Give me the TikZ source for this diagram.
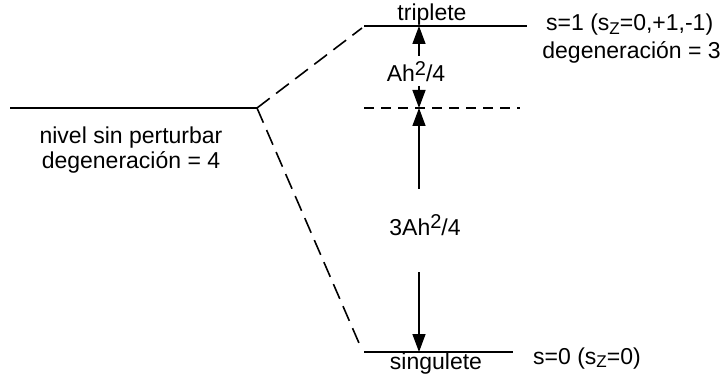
\documentclass[tikz,border=0pt]{standalone}
\usepackage{fontspec}
\setmainfont{Liberation Sans}
\usetikzlibrary{arrows.meta}

% raised superscript and lowered subscript in the label font
\newcommand{\hsup}[1]{\raisebox{0.27em}{\fontsize{20}{20}\selectfont #1}}
\newcommand{\hsub}[1]{\raisebox{-0.16em}{\fontsize{17}{17}\selectfont #1}}

\tikzset{
  level/.style={line width=1.6pt},
  conn/.style={line width=1.6pt, dash pattern=on 16pt off 8pt},
  midlevel/.style={line width=1.6pt, dash pattern=on 10pt off 7pt},
  gap/.style={line width=1.4pt, -{Triangle[length=18pt,width=13pt]}},
  lbl/.style={inner sep=0pt, anchor=base},
}

\begin{document}
\begin{tikzpicture}[x=1pt, y=-1pt, font=\fontsize{23}{24}\selectfont]
\useasboundingbox (0,0) rectangle (726,377);

% energy levels
\coordinate (u1) at (10,108);
\coordinate (u2) at (257,108);
\coordinate (t1) at (364,26);
\coordinate (t2) at (527,26);
\coordinate (m1) at (364,108);
\coordinate (m2) at (520,108);
\coordinate (s1) at (364,352);
\coordinate (s2) at (513,352);

\draw[level] (u1) -- (u2);
\draw[level] (t1) -- (t2);
\draw[level] (s1) -- (s2);
\draw[midlevel] (m1) -- (m2);

% splitting connectors
\coordinate (tc) at (362,28);
\coordinate (sc) at (362,350);
\draw[conn] (u2) -- (tc);
\draw[conn] (u2) -- (sc);

% gap arrows
\coordinate (ta) at (419,26);
\coordinate (ma) at (419,108);
\coordinate (sa) at (419,352);
\coordinate (ga1) at (419,56);
\coordinate (ga2) at (419,86);
\coordinate (gb1) at (419,189);
\coordinate (gb2) at (419,272);

\node[lbl] (gapA) at (416,82) {Ah\hsup{2}/4};
\node[lbl] (gapB) at (425,235) {3Ah\hsup{2}/4};

\draw[gap] (ga1) -- (ta);
\draw[gap] (ga2) -- (ma);
\draw[gap] (gb1) -- (ma);
\draw[gap] (gb2) -- (sa);

% labels
\node[lbl] (trip) at (432,21) {triplete};
\node[lbl] (sing) at (436,369) {singulete};
\node[lbl, anchor=base west] (s1lab) at (546,31) {s=1 (s\hsub{Z}=0,+1,-1)};
\node[lbl, anchor=base east] (deg3) at (721,59) {degeneración = 3};
\node[lbl, anchor=base west] (s0lab) at (533,364) {s=0 (s\hsub{Z}=0)};
\node[lbl] (niv) at (131,144) {nivel sin perturbar};
\node[lbl] (deg4) at (131,168) {degeneración = 4};
\end{tikzpicture}
\end{document}
